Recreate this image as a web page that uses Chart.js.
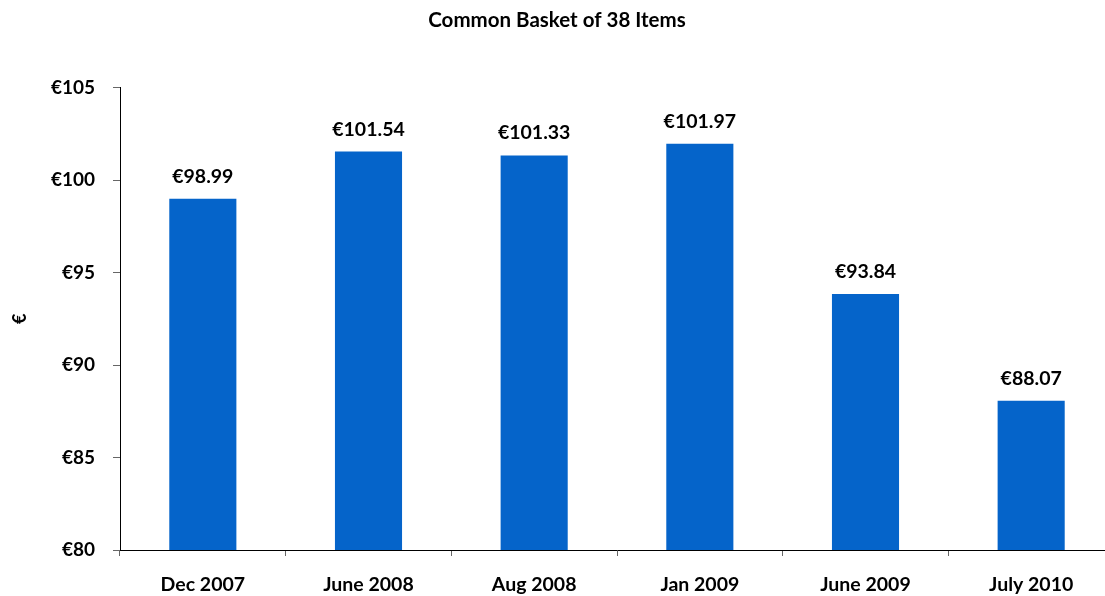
<!DOCTYPE html>
<html>
<head>
<meta charset="utf-8">
<script src="https://cdn.jsdelivr.net/npm/chart.js@4/dist/chart.umd.min.js"></script>
<style>
html,body{margin:0;padding:0;overflow:hidden;background:#fff;}
#wrap{position:relative;width:1114px;height:596px;}
</style>
</head>
<body>
<div id="wrap"><canvas id="c"></canvas></div>
<script>
const categories = ["Dec 2007", "June 2008", "Aug 2008", "Jan 2009", "June 2009", "July 2010"];
const values = [98.99, 101.54, 101.33, 101.97, 93.84, 88.07];
const yMin = 80, yMax = 105, yStep = 5;
const titleText = "Common Basket of 38 Items";
const yTitle = "€";

const FONT = "Lato, 'Open Sans', sans-serif";

const labelPlugin = {
  id: 'valueLabels',
  afterDatasetsDraw(chart) {
    const ctx = chart.ctx;
    const meta = chart.getDatasetMeta(0);
    ctx.save();
    ctx.font = "bold 19.5px " + FONT;
    ctx.fillStyle = "#000";
    ctx.textAlign = "center";
    ctx.textBaseline = "alphabetic";
    meta.data.forEach((bar, i) => {
      ctx.fillText("€" + values[i].toFixed(2), bar.x, bar.y - 16);
    });
    ctx.restore();
  }
};

new Chart(document.getElementById('c'), {
  type: 'bar',
  data: {
    labels: categories,
    datasets: [{
      data: values,
      backgroundColor: '#0564CA',
      borderWidth: 0,
      barPercentage: 0.81,
      categoryPercentage: 0.5
    }]
  },
  options: {
    responsive: true,
    maintainAspectRatio: false,
    animation: false,
    layout: { padding: 0 },
    plugins: {
      legend: { display: false },
      tooltip: { enabled: false },
      title: {
        display: true,
        text: titleText,
        color: '#000',
        font: { family: FONT, size: 20.5, weight: 'bold' },
        padding: { top: 8, bottom: 55 }
      }
    },
    scales: {
      x: {
        grid: { drawOnChartArea: false, drawTicks: true, tickLength: 6, color: '#666', offset: true },
        border: { display: true, color: '#000', width: 1 },
        ticks: { color: '#000', font: { family: FONT, size: 19.5, weight: 'bold' }, padding: 17, maxRotation: 0 },
        afterFit(s) { s.height = 46; }
      },
      y: {
        min: yMin, max: yMax,
        grid: { drawOnChartArea: false, drawTicks: true, tickLength: 7, color: '#666' },
        border: { display: true, color: '#000', width: 1 },
        ticks: {
          stepSize: yStep,
          color: '#000',
          padding: 18,
          font: { family: FONT, size: 19, weight: 'bold' },
          callback: v => "€" + v
        },
        title: {
          display: true, text: yTitle, color: '#000',
          font: { family: FONT, size: 18, weight: 'bold' },
          padding: { top: 9, bottom: 0 }
        },
        afterFit(s) { s.width = 120; }
      }
    }
  },
  plugins: [labelPlugin]
});
</script>
</body>
</html>
